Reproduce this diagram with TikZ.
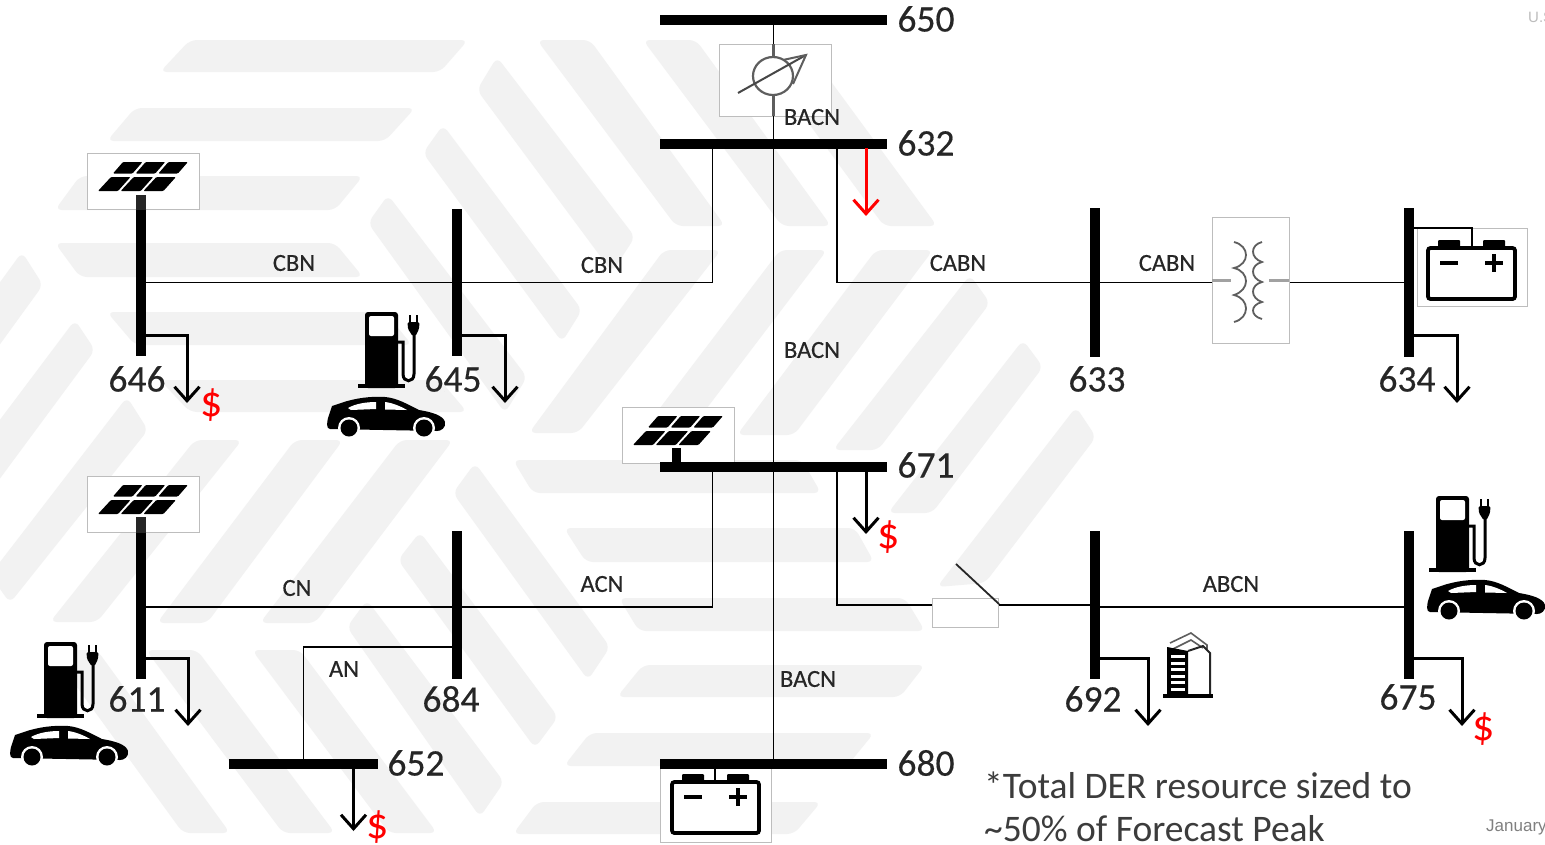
\documentclass[tikz,border=0pt]{standalone}
\usepackage{fontspec}
\setmainfont{Carlito}
\newfontfamily\heavy[FakeBold=0.35]{Carlito}
\newfontfamily\arialish{Liberation Sans}
\usetikzlibrary{arrows.meta}
\definecolor{bgray}{HTML}{F2F2F2}
\definecolor{ink}{HTML}{262626}
\definecolor{boxgray}{HTML}{BDBDBD}
\definecolor{icongray}{HTML}{5E5E5E}
\tikzset{
  bgband/.style={fill=bgray,rounded corners=7pt},
  hbus/.style={fill=black,inner sep=0pt,outer sep=0pt,minimum height=10pt,draw=none},
  vbus/.style={fill=black,inner sep=0pt,outer sep=0pt,minimum width=10pt,draw=none},
  wire/.style={draw=black,line width=1.9pt},
  loadline/.style={draw=black,line width=3pt,-{Straight Barb[length=14pt,width=25pt,line width=3pt]}},
  redload/.style={draw=red,line width=3pt,-{Straight Barb[length=14pt,width=25pt,line width=3pt]}},
  iconbox/.style={draw=boxgray,fill=white,line width=1pt,inner sep=0pt,outer sep=0pt,anchor=north west},
  num/.style={font=\heavy\fontsize{37.5}{37.5}\selectfont,text=ink,inner sep=0pt},
  lbl/.style={font=\heavy\fontsize{24.5}{24.5}\selectfont,text=ink,inner sep=0pt},
  dollar/.style={font=\fontsize{44}{44}\selectfont,text=red,inner sep=0pt},
  notetext/.style={font=\fontsize{37.5}{37.5}\selectfont,text=ink!90,inner sep=0pt,anchor=base west},
  pics/solar/.style={code={
    \foreach \i in {0,1,2}{
      \fill[black,rounded corners=1pt] ({36+22.7*\i},9) -- ({55.5+22.7*\i},9) -- ({45.5+22.7*\i},20.5) -- ({26+22.7*\i},20.5) -- cycle;
      \fill[black,rounded corners=1pt] ({24+22.7*\i},24) -- ({43.5+22.7*\i},24) -- ({31+22.7*\i},38) -- ({11+22.7*\i},38) -- cycle;
    }}},
  pics/pump/.style={code={
    \fill[black,rounded corners=3pt] (7,76) -- (7,0) -- (40,0) -- (40,76) -- cycle;
    \fill[white,rounded corners=2pt] (11,4) rectangle (36,24);
    \fill[black] (0,72) rectangle (47,76);
    \draw[black,line width=3pt] (40,30) -- (45,30) -- (45,62) .. controls (45,71) and (56,71) .. (56,62) -- (56,22);
    \fill[black,rounded corners=1.5pt] (49.5,10) -- (61.5,10) -- (61,17) -- (57.5,24) -- (54.5,24) -- (50,17) -- cycle;
    \draw[black,line width=2.6pt] (52,3) -- (52,10) (59,3) -- (59,10);
  }},
  pics/evcar/.style={code={
    \fill[black] (3,33) .. controls (-1,33) and (0,26) .. (1,22) -- (5,10) -- (14,7) .. controls (28,2) and (45,0) .. (58,1) .. controls (70,2) and (80,8) .. (92,14) .. controls (104,16) and (116,19) .. (118,26) .. controls (119,32) and (114,35) .. (110,35) -- cycle;
    \fill[white] (21,12) .. controls (28,8) and (38,6) .. (49,6) -- (49,13) -- (24,14) -- cycle;
    \fill[white] (58,6) .. controls (66,7) and (73,10) .. (80,14) -- (58,13.5) -- cycle;
    \fill[white] (22,32) circle[radius=11];
    \fill[white] (97,32) circle[radius=11];
    \fill[black] (22,32) circle[radius=8.5];
    \fill[black] (97,32) circle[radius=8.5];
  }},
  pics/accu/.style={code={
    \draw[black,line width=3.8pt,rounded corners=2.5pt] (0,0) rectangle (87,51);
    \fill[black,rounded corners=1pt] (10,-8) rectangle (32,0);
    \fill[black,rounded corners=1pt] (55,-8) rectangle (77,0);
    \draw[black,line width=3.8pt] (12,15) -- (30,15);
    \draw[black,line width=3.8pt] (57,15) -- (75,15) (66,6) -- (66,24);
  }},
  pics/tower/.style={code={
    \draw[icongray,line width=1.6pt] (7,10) -- (28,0) -- (44,12) -- (44,16);
    \draw[icongray,line width=1.6pt] (10,16) -- (28,7) -- (40,15);
    \draw[ink,line width=2pt] (25,18) -- (40,13) -- (47,20) -- (47,62);
    \fill[black] (4,14) -- (25,18) -- (25,62) -- (4,62) -- cycle;
    \foreach \r in {0,1,2,3,4,5}{\fill[white] (8,{22+6.5*\r}) rectangle (22,{25+6.5*\r});}
    \fill[black] (0,61) rectangle (50,65);
  }},
}
\begin{document}
\begin{tikzpicture}[x=1pt,y=-1pt]
\useasboundingbox (0,0) rectangle (1545,844);
\clip (0,0) rectangle (1545,844);
\fill[white] (0,0) rectangle (1545,844);
% ---- background bands
\path[bgband] (190,40) -- (468,40) -- (440,72) -- (160,72) -- cycle;
\path[bgband] (135,108) -- (415,108) -- (385,141) -- (107,141) -- cycle;
\path[bgband] (80,176) -- (363,176) -- (335,210) -- (55,210) -- cycle;
\path[bgband] (55,243) -- (335,243) -- (363,277) -- (80,277) -- cycle;
\path[bgband] (107,312) -- (385,312) -- (412,345) -- (135,345) -- cycle;
\path[bgband] (160,380) -- (440,380) -- (467,412) -- (190,412) -- cycle;
\path[bgband] (513,460) -- (802,460) -- (821,493) -- (533,493) -- cycle;
\path[bgband] (564,528) -- (855,528) -- (874,562) -- (586,562) -- cycle;
\path[bgband] (619,598) -- (905,598) -- (925,631) -- (639,631) -- cycle;
\path[bgband] (643,665) -- (925,665) -- (900,697) -- (617,697) -- cycle;
\path[bgband] (590,733) -- (874,733) -- (847,766) -- (564,766) -- cycle;
\path[bgband] (537,802) -- (821,802) -- (794,834) -- (513,834) -- cycle;
\path[bgband] (537,40) -- (590,40) -- (725,226) -- (676,226) -- cycle;
\path[bgband] (643,40) -- (696,40) -- (831,226) -- (782,226) -- cycle;
\path[bgband] (771,72) -- (824,72) -- (937,226) -- (884,226) -- cycle;
\path[bgband] (477,90) -- (497,57) -- (635,237) -- (612,272) -- cycle;
\path[bgband] (423,153) -- (443,125) -- (582,310) -- (562,342) -- cycle;
\path[bgband] (368,223) -- (388,195) -- (527,377) -- (505,413) -- cycle;
\path[bgband] (-10,296) -- (22,252) -- (43,285) -- (-10,358) -- cycle;
\path[bgband] (-10,433) -- (75,320) -- (95,350) -- (-10,492) -- cycle;
\path[bgband] (-10,575) -- (127,397) -- (148,430) -- (10,603) -- cycle;
\path[bgband] (195,440) -- (242,440) -- (97,622) -- (50,622) -- cycle;
\path[bgband] (295,440) -- (343,440) -- (207,623) -- (157,623) -- cycle;
\path[bgband] (400,440) -- (453,440) -- (315,623) -- (260,623) -- cycle;
\path[bgband] (664,250) -- (721,250) -- (578,433) -- (529,433) -- cycle;
\path[bgband] (780,250) -- (827,250) -- (688,433) -- (641,433) -- cycle;
\path[bgband] (876,250) -- (933,250) -- (794,435) -- (737,435) -- cycle;
\path[bgband] (970,275) -- (990,303) -- (878,450) -- (833,450) -- cycle;
\path[bgband] (1023,340) -- (1043,367) -- (932,513) -- (888,513) -- cycle;
\path[bgband] (1076,407) -- (1096,437) -- (985,583) -- (937,587) -- cycle;
\path[bgband] (50,650) -- (97,650) -- (230,833) -- (183,833) -- cycle;
\path[bgband] (146,650) -- (197,650) -- (335,833) -- (283,833) -- cycle;
\path[bgband] (252,650) -- (300,650) -- (437,833) -- (389,833) -- cycle;
\path[bgband] (347,627) -- (367,600) -- (504,782) -- (480,817) -- cycle;
\path[bgband] (398,560) -- (420,532) -- (558,717) -- (535,748) -- cycle;
\path[bgband] (453,493) -- (475,463) -- (610,647) -- (588,680) -- cycle;

% ---- buses
\node[hbus,minimum width=227pt] (b650) at (773.5,20) {};
\node[hbus,minimum width=227pt] (b632) at (773.5,144) {};
\node[hbus,minimum width=227pt] (b671) at (773.5,466.5) {};
\node[hbus,minimum width=227pt] (b680) at (773.5,764) {};
\node[hbus,minimum width=149pt] (b652) at (303.5,764) {};
\node[vbus,minimum height=147pt] (b646) at (140.5,282.5) {};
\node[vbus,minimum height=147pt] (b645) at (456.5,282.5) {};
\node[vbus,minimum height=149pt] (b633) at (1095,282.5) {};
\node[vbus,minimum height=149pt] (b634) at (1408.5,282.5) {};
\node[vbus,minimum height=147pt] (b611) at (140.5,605.5) {};
\node[vbus,minimum height=148pt] (b684) at (456.5,604.5) {};
\node[vbus,minimum height=148pt] (b692) at (1095,604.5) {};
\node[vbus,minimum height=148pt] (b675) at (1408.5,604.5) {};

% ---- junction points
\coordinate (j632l) at (712.5,282.5);
\coordinate (j632r) at (837,282.5);
\coordinate (j671l) at (712.5,607);
\coordinate (j671r) at (837,605);
\coordinate (j684) at (303.5,647);
\coordinate (c646) at (187,335);
\coordinate (e646) at (187,403);
\coordinate (c645) at (505,335);
\coordinate (e645) at (505,403);
\coordinate (c634) at (1457,335);
\coordinate (e634) at (1457,403);
\coordinate (c611) at (188,658);
\coordinate (e611) at (188,726);
\coordinate (c692) at (1148,658);
\coordinate (e692) at (1148,726);
\coordinate (c675) at (1462,658);
\coordinate (e675) at (1462,726);
\coordinate (e671) at (866,534);
\coordinate (e652) at (353.5,831);
\coordinate (e632) at (866,216);
\coordinate (st632) at (866,148);
\coordinate (st671) at (866,470);
\coordinate (st652) at (353.5,768);
\coordinate (batstub) at (715,782);
\coordinate (batcorner) at (1472,228);
\coordinate (batend) at (1472,247);

% ---- main feeder and lines
\draw[wire] (b650.center) -- (b680.center);
\draw[wire] (b646.center |- j632l) -- (j632l) -- (j632l |- b632.center);
\draw[wire] (b611.center |- j671l) -- (j671l) -- (j671l |- b671.center);
\draw[wire] (j684 -| b684.center) -- (j684) -- (j684 |- b652.center);
\draw[wire] (j632r |- b632.center) -- (j632r) -- (b633.center |- j632r) -- (b634.center |- j632r);
\draw[wire] (j671r |- b671.center) -- (j671r) -- (b692.center |- j671r);
\draw[wire] (b692.center |- j671l) -- (b675.center |- j671l);

% ---- icon boxes
\node[iconbox,minimum width=112pt,minimum height=72pt] (psbox) at (719.5,44) {};
\node[iconbox,minimum width=112pt,minimum height=56pt] (s646) at (87.5,153.5) {};
\node[iconbox,minimum width=112pt,minimum height=56pt] (s611) at (87.5,476.5) {};
\node[iconbox,minimum width=112pt,minimum height=56pt] (s671) at (622.5,407.5) {};
\node[iconbox,minimum width=77pt,minimum height=126pt] (xfmr) at (1212,217.5) {};
\node[iconbox,minimum width=110pt,minimum height=78pt] (bat634) at (1417,228) {};
\node[iconbox,minimum width=111pt,minimum height=80pt] (bat680) at (660,762) {};
\node[iconbox,minimum width=66pt,minimum height=29pt] (swbox) at (932.5,598) {};

% bus redraw above boxes
\fill[black] (b680.north west) rectangle (b680.south east);
\fill[black] (b671.north west) rectangle (b671.south east);
\fill[ink] (136,195) rectangle (145.5,210);
\fill[ink] (136,517) rectangle (145.5,533);
\fill[black] (672,448) rectangle (681,463);

% ---- phase shifter
\draw[icongray,line width=3pt] (773.5,44) -- (773.5,58) (773.5,95) -- (773.5,116);
\draw[icongray,line width=2.2pt] (773,76) ellipse[x radius=20,y radius=19];
\draw[ink!85,line width=2pt] (738,93) -- (806,55);
\draw[icongray,line width=2pt] (783,60) -- (806,55) -- (793,84);
\draw[wire] (psbox.south -| b650.center) -- (b632.center);

% ---- transformer
\draw[boxgray!85!black,line width=3pt] (xfmr.west) -- ++(19,0);
\draw[boxgray!85!black,line width=3pt] (xfmr.east) -- ++(-20,0);
\draw[icongray,line width=1.8pt]
  (1234,242) .. controls (1250,246) and (1250,264) .. (1234,268)
  .. controls (1250,272) and (1250,290) .. (1234,295)
  .. controls (1250,299) and (1250,318) .. (1234,322);
\draw[icongray,line width=1.8pt]
  (1262,242) .. controls (1250,245) and (1250,258) .. (1262,262)
  .. controls (1250,265) and (1250,278) .. (1262,282)
  .. controls (1250,285) and (1250,298) .. (1262,302)
  .. controls (1250,305) and (1250,316) .. (1262,319);

% ---- switch
\draw[ink,line width=1.8pt] (956,564) -- (999,604);
\draw[wire] (swbox.north east |- j671r) -- (b692.center |- j671r);

% ---- solar panels
\pic at (87,153) {solar};
\pic at (87,476) {solar};
\pic at (622,407) {solar};

% ---- batteries
\pic at (1428,248) {accu};
\pic at (672,782) {accu};
\draw[black,line width=2.8pt] (b634.east |- batcorner) -- (batcorner) -- (batend);
\draw[black,line width=2.8pt] (batstub |- b680.south) -- (batstub);

% ---- EV charging
\pic at (358,312) {pump};
\pic at (327,396) {evcar};
\pic at (37,642) {pump};
\pic at (10,725) {evcar};
\pic at (1429,496) {pump};
\pic at (1427,579) {evcar};

% ---- building
\pic at (1163,633) {tower};

% ---- loads
\draw[loadline] (b646.east |- c646) -- (c646) -- (e646);
\draw[loadline] (b645.east |- c645) -- (c645) -- (e645);
\draw[loadline] (b634.east |- c634) -- (c634) -- (e634);
\draw[loadline] (b611.east |- c611) -- (c611) -- (e611);
\draw[loadline] (b692.east |- c692) -- (c692) -- (e692);
\draw[loadline] (b675.east |- c675) -- (c675) -- (e675);
\draw[loadline] (st671) -- (e671);
\draw[loadline] (st652) -- (e652);
\draw[redload] (st632) -- (e632);

% ---- bus numbers
\node[num] (n650) at (926,19) {650};
\node[num] (n632) at (926,143) {632};
\node[num] (n671) at (926,465) {671};
\node[num] (n680) at (926,763) {680};
\node[num] (n652) at (416,763) {652};
\node[num] (n646) at (137,379) {646};
\node[num] (n645) at (453,379) {645};
\node[num] (n633) at (1097,379) {633};
\node[num] (n634) at (1407,379) {634};
\node[num] (n611) at (137,699) {611};
\node[num] (n684) at (451,699) {684};
\node[num] (n692) at (1093,699) {692};
\node[num] (n675) at (1408,697) {675};

% ---- line labels
\node[lbl] (l1) at (294,263) {CBN};
\node[lbl] (l2) at (602,265) {CBN};
\node[lbl] (l3) at (958,263) {CABN};
\node[lbl] (l4) at (1167,263) {CABN};
\node[lbl] (l5) at (812,117) {BACN};
\node[lbl] (l6) at (812,350) {BACN};
\node[lbl] (l7) at (808,679) {BACN};
\node[lbl] (l8) at (297,588) {CN};
\node[lbl] (l9) at (602,584) {ACN};
\node[lbl] (l10) at (344,669) {AN};
\node[lbl] (l11) at (1231,584) {ABCN};

% ---- prices
\node[dollar] (d1) at (212,405) {\$};
\node[dollar] (d2) at (889,537) {\$};
\node[dollar] (d3) at (378,827) {\$};
\node[dollar] (d4) at (1484,729) {\$};

% ---- note and footer
\node[notetext] (note1) at (984,798) {*Total DER resource sized to};
\node[notetext] (note2) at (984,841) {\textasciitilde 50\% of Forecast Peak};
\node[font=\arialish\fontsize{17}{17}\selectfont,text=gray,inner sep=0pt,anchor=base west] (foot) at (1486,831) {January};
\node[font=\arialish\fontsize{15}{15}\selectfont,text=boxgray,inner sep=0pt,anchor=base west] (agency) at (1528,22) {U.S};
\end{tikzpicture}
\end{document}
